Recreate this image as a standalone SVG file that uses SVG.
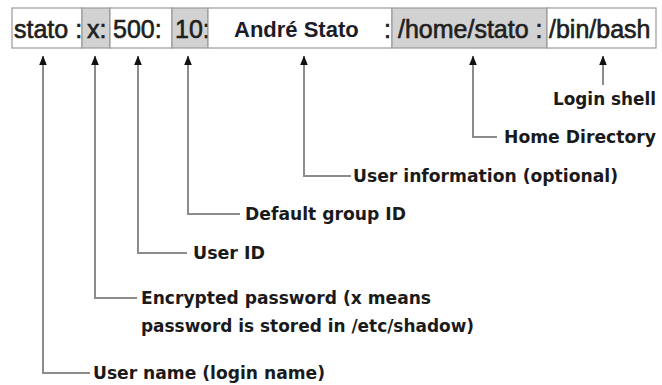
<svg xmlns="http://www.w3.org/2000/svg" width="662" height="385" viewBox="0 0 662 385">
<defs>
<style>
.cell{stroke:#9a9a9a;stroke-width:1.2}
.w{fill:#ffffff}
.g{fill:#d2d2d2}
.f{font-family:"Liberation Sans",Arial,sans-serif;font-size:25px;fill:#202020;stroke:#202020;stroke-width:0.6}
.fb{font-family:"Liberation Sans",Arial,sans-serif;font-size:22px;font-weight:bold;fill:#1c1c28}
.lbl{font-family:"DejaVu Sans","Liberation Sans",sans-serif;font-size:18px;font-weight:bold;fill:#1a1a1a}
.con{fill:none;stroke:#8c8c8c;stroke-width:2}
</style>
<marker id="arr" markerUnits="userSpaceOnUse" markerWidth="10" markerHeight="10" viewBox="0 0 10 10" refX="9" refY="5" orient="auto">
<path d="M0,1.2 L9.5,5 L0,8.8 Z" fill="#111"/>
</marker>
</defs>
<rect width="662" height="385" fill="#ffffff"/>

<g id="field-username"><rect class="cell w" x="12" y="8" width="70" height="40"/><text class="f" x="14" y="38">stato :</text></g>
<g id="field-password"><rect class="cell g" x="82" y="8" width="28" height="40"/><text class="f" x="87" y="38">x:</text></g>
<g id="field-uid"><rect class="cell w" x="110" y="8" width="62" height="40"/><text class="f" x="113" y="38">500:</text></g>
<g id="field-gid"><rect class="cell g" x="172" y="8" width="36" height="40"/><text class="f" x="175" y="38">10:</text></g>
<g id="field-info"><rect class="cell w" x="208" y="8" width="184" height="40"/><text class="fb" x="234" y="37">André Stato</text><text class="f" x="384" y="38">:</text></g>
<g id="field-home"><rect class="cell g" x="392" y="8" width="155" height="40"/><text class="f" x="398" y="38">/home/stato :</text></g>
<g id="field-shell"><rect class="cell w" x="547" y="8" width="109" height="40"/><text class="f" x="549" y="38">/bin/bash</text></g>

<g id="connectors">
<path class="con" d="M90,373 H43 V56" marker-end="url(#arr)"/>
<path class="con" d="M137,298 H95 V56" marker-end="url(#arr)"/>
<path class="con" d="M187,253 H138 V56" marker-end="url(#arr)"/>
<path class="con" d="M240,214 H188 V56" marker-end="url(#arr)"/>
<path class="con" d="M351,176 H304 V56" marker-end="url(#arr)"/>
<path class="con" d="M497,137 H473 V56" marker-end="url(#arr)"/>
<path class="con" d="M603,85 V56" marker-end="url(#arr)"/>
</g>

<g id="label-shell"><text class="lbl" x="553" y="105" textLength="103" lengthAdjust="spacingAndGlyphs">Login shell</text></g>
<g id="label-home"><text class="lbl" x="504" y="143" textLength="152" lengthAdjust="spacingAndGlyphs">Home Directory</text></g>
<g id="label-info"><text class="lbl" x="353" y="182" textLength="265" lengthAdjust="spacingAndGlyphs">User information (optional)</text></g>
<g id="label-gid"><text class="lbl" x="245" y="220" textLength="161" lengthAdjust="spacingAndGlyphs">Default group ID</text></g>
<g id="label-uid"><text class="lbl" x="193" y="259" textLength="72" lengthAdjust="spacingAndGlyphs">User ID</text></g>
<g id="label-password"><text class="lbl" x="141" y="304" textLength="290" lengthAdjust="spacingAndGlyphs">Encrypted password (x means</text><text class="lbl" x="141" y="332" textLength="333" lengthAdjust="spacingAndGlyphs">password is stored in /etc/shadow)</text></g>
<g id="label-username"><text class="lbl" x="93" y="379" textLength="232" lengthAdjust="spacingAndGlyphs">User name (login name)</text></g>
</svg>
